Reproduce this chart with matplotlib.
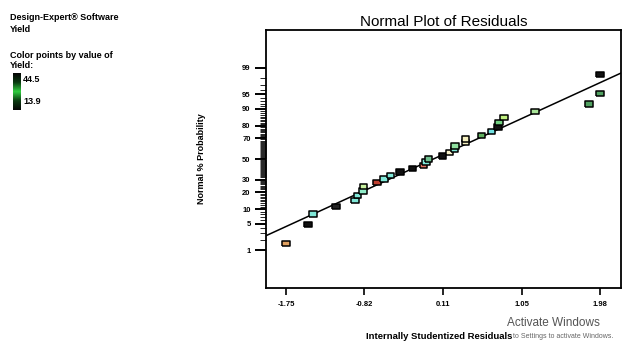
import numpy as np
import matplotlib
matplotlib.use("Agg")
import matplotlib.pyplot as plt
from matplotlib.colors import LinearSegmentedColormap
from statistics import NormalDist

plt.rcParams['font.family'] = ['Liberation Sans', 'DejaVu Sans']

# internally studentized residuals, sorted
residuals = [-1.75, -1.49, -1.43, -1.16, -0.93, -0.90, -0.84, -0.83, -0.67, -0.59,
             -0.51, -0.40, -0.25, -0.12, -0.09, -0.06, 0.11, 0.19, 0.25, 0.26,
             0.38, 0.38, 0.57, 0.69, 0.77, 0.78, 0.84, 1.21, 1.85, 1.98, 1.98]
# normal % probability of each point
probability = [1.6, 4.8, 8.1, 11.3, 14.5, 17.7, 21.0, 24.2, 27.4, 30.6,
               33.9, 37.1, 40.3, 43.5, 46.8, 50.0, 53.2, 56.5, 59.7, 62.9,
               66.1, 69.4, 72.6, 75.8, 79.0, 82.3, 85.5, 88.7, 91.9, 95.2, 98.4]
# point colours (colour by value of Yield)
point_colors = ['#e0a060', '#111111', '#80e8d8', '#222222', '#80e8d8', '#80e8d8',
                '#90ecc8', '#c8f0a0', '#c04030', '#80e8d8', '#80e8d8', '#111111',
                '#111111', '#e07060', '#80e8d8', '#70c090', '#111111', '#f5f0c8',
                '#80e8d8', '#90e0a0', '#f5f0c0', '#f5f0c0', '#60b060', '#70e0e0',
                '#111111', '#70d080', '#c0f080', '#a8e498', '#50a060', '#50a060',
                '#111111']

fit_slope = 0.98      # z per residual unit
fit_intercept = 0.0

x_ticks = [-1.75, -0.82, 0.11, 1.05, 1.98]
x_tick_labels = ['-1.75', '-0.82', '0.11', '1.05', '1.98']
y_major_pct = [1, 5, 10, 20, 30, 50, 70, 80, 90, 95, 99]
y_minor_pct = [p for p in range(2, 99) if p not in y_major_pct]

yield_max, yield_min = 44.5, 13.9

nd = NormalDist()


def to_z(pct):
    return np.array([nd.inv_cdf(p / 100.0) for p in np.atleast_1d(pct)])


fig = plt.figure(figsize=(6.38, 3.44), dpi=100)
ax = fig.add_axes([266 / 638, 1 - 288 / 344, 355 / 638, 258 / 344])

rect = [(-1.35, -1), (1.35, -1), (1.35, 1), (-1.35, 1), (-1.35, -1)]
ax.scatter(residuals, to_z(probability), c=point_colors, marker=rect, s=30,
           edgecolors='black', linewidths=1.1, zorder=3)
ax.axline((0, fit_intercept), slope=fit_slope, color='black', lw=1.1, zorder=2)

ax.set_xlim(-1.99, 2.23)
ax.set_ylim(-3.28, 3.28)

ax.set_xticks(x_ticks)
ax.set_xticklabels(x_tick_labels, fontsize=5.5, fontweight='bold')
ax.set_yticks(to_z(y_major_pct))
ax.set_yticklabels([str(p) for p in y_major_pct], fontsize=5.5, fontweight='bold')
ax.set_yticks(to_z(y_minor_pct), minor=True)
ax.tick_params(axis='x', length=5, width=1.2, pad=4)
ax.tick_params(axis='y', which='major', length=8, width=1.4, pad=3)
ax.tick_params(axis='y', which='minor', length=4, width=0.6)
for s in ax.spines.values():
    s.set_linewidth(1.3)

ax.set_title('Normal Plot of Residuals', fontsize=11, pad=3)
ax.set_ylabel('Normal % Probability', fontsize=6.5, fontweight='bold', labelpad=26)
ax.set_xlabel('Internally Studentized Residuals', fontsize=6.8, fontweight='bold',
              labelpad=17)
ax.xaxis.set_label_coords(0.487, -0.17)

# legend block at top left
fig.text(10 / 638, 1 - 17 / 344, 'Design-Expert® Software', fontsize=6.5,
         fontweight='bold', va='center')
fig.text(10 / 638, 1 - 29 / 344, 'Yield', fontsize=6.5, fontweight='bold', va='center')
fig.text(10 / 638, 1 - 55 / 344, 'Color points by value of', fontsize=6.5,
         fontweight='bold', va='center')
fig.text(10 / 638, 1 - 66 / 344, 'Yield:', fontsize=6.5, fontweight='bold', va='center')

cax = fig.add_axes([13 / 638, 1 - 110 / 344, 8 / 638, 37 / 344])
cmap = LinearSegmentedColormap.from_list(
    'yld', ['#050505', '#0a3a10', '#30d040', '#0a3a10', '#050505'])
cax.imshow(np.linspace(0, 1, 64).reshape(-1, 1), aspect='auto', cmap=cmap)
cax.axis('off')
fig.text(23 / 638, 1 - 79 / 344, f'{yield_max}', fontsize=6.5, fontweight='bold', va='center')
fig.text(23 / 638, 1 - 101 / 344, f'{yield_min}', fontsize=6.5, fontweight='bold', va='center')

# windows watermark
fig.text(507 / 638, 1 - 323 / 344, 'Activate Windows', fontsize=8.5, color='#555555',
         va='center')
fig.text(513 / 638, 1 - 336 / 344, 'to Settings to activate Windows.', fontsize=5,
         color='#666666', va='center')

fig.savefig('out.png', dpi=100)
